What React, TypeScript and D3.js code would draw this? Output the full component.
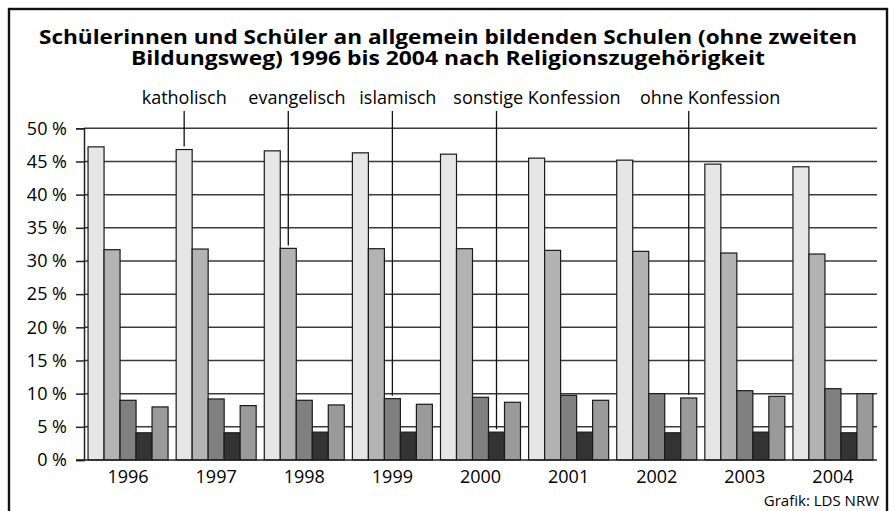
import React, { useEffect, useRef } from 'react';
import * as d3 from 'd3';

// Anteile in % je Schuljahr
const years = ['1996', '1997', '1998', '1999', '2000', '2001', '2002', '2003', '2004'];
const series = ['katholisch', 'evangelisch', 'islamisch', 'sonstige Konfession', 'ohne Konfession'];
const katholisch = [47.2, 46.8, 46.6, 46.3, 46.1, 45.5, 45.2, 44.6, 44.2];
const evangelisch = [31.7, 31.8, 31.9, 31.85, 31.85, 31.6, 31.45, 31.2, 31.05];
const islamisch = [9.0, 9.2, 9.0, 9.25, 9.45, 9.75, 10.0, 10.45, 10.75];
const sonstige = [4.1, 4.1, 4.2, 4.2, 4.2, 4.2, 4.1, 4.2, 4.1];
const ohne = [8.0, 8.2, 8.3, 8.4, 8.7, 9.0, 9.35, 9.6, 10.0];
const yTicks = [0, 5, 10, 15, 20, 25, 30, 35, 40, 45, 50];

// welches Jahr die Beschriftungslinie trifft
const labelYear = ['1997', '1998', '1999', '2000', '2002'];

const colors = ['#e6e6e6', '#b3b3b3', '#808080', '#333333', '#9a9a9a'];

function App() {
  const svgRef = useRef<SVGSVGElement>(null);

  useEffect(() => {
    const width = 896;
    const height = 511;
    const values = [katholisch, evangelisch, islamisch, sonstige, ohne];
    const font = '"Open Sans", sans-serif';

    const svg = d3.select(svgRef.current);
    svg.selectAll('*').remove();
    svg.attr('width', width).attr('height', height);

    svg.append('rect')
      .attr('x', 0).attr('y', 0).attr('width', width).attr('height', height)
      .attr('fill', '#fff');

    // Rahmen
    svg.append('rect')
      .attr('x', 9).attr('y', 9).attr('width', 878).attr('height', 510)
      .attr('fill', 'none').attr('stroke', '#111').attr('stroke-width', 2.4);

    // Titel (Frutiger ist breiter, daher gestreckt)
    const titleLines = [
      { text: 'Schülerinnen und Schüler an allgemein bildenden Schulen (ohne zweiten', y: 44, len: 818 },
      { text: 'Bildungsweg) 1996 bis 2004 nach Religionszugehörigkeit', y: 65, len: 634 },
    ];
    svg.append('g')
      .selectAll('text')
      .data(titleLines)
      .enter()
      .append('text')
      .attr('x', 448)
      .attr('y', d => d.y)
      .attr('text-anchor', 'middle')
      .attr('font-family', font)
      .attr('font-weight', 700)
      .attr('font-size', 20)
      .attr('textLength', d => d.len)
      .attr('lengthAdjust', 'spacingAndGlyphs')
      .attr('fill', '#000')
      .text(d => d.text);

    const x0 = d3.scaleBand()
      .domain(years)
      .range([84, 877])
      .paddingInner(0.092)
      .paddingOuter(0.046);

    const x1 = d3.scaleBand()
      .domain(series)
      .range([0, x0.bandwidth()]);

    const y = d3.scaleLinear()
      .domain([0, 50])
      .range([460, 128.3]);

    // Gitternetz
    svg.append('g')
      .selectAll('line')
      .data(yTicks.filter(d => d > 0))
      .enter()
      .append('line')
      .attr('x1', 84).attr('x2', 877)
      .attr('y1', d => y(d)).attr('y2', d => y(d))
      .attr('stroke', '#3a3a3a')
      .attr('stroke-width', 1.5);

    // y-Achse
    const yAxis = svg.append('g').attr('transform', 'translate(84,0)')
      .call(d3.axisLeft(y).tickValues(yTicks).tickSize(8).tickFormat(d => `${d} %`));
    yAxis.select('.domain').attr('stroke', '#222').attr('stroke-width', 1.5);
    yAxis.selectAll('.tick line').attr('stroke', '#222').attr('stroke-width', 1.5);
    yAxis.selectAll('.tick text')
      .attr('font-family', font)
      .attr('font-size', 18)
      .attr('fill', '#000')
      .attr('x', -17)
      .attr('dy', '0.32em');

    // Balken
    const groups = svg.append('g')
      .selectAll('g')
      .data(years)
      .enter()
      .append('g')
      .attr('transform', d => `translate(${x0(d)},0)`);

    groups.selectAll('rect')
      .data((yr, i) => series.map((s, k) => ({ s, k, v: values[k][i] })))
      .enter()
      .append('rect')
      .attr('x', d => x1(d.s) as number)
      .attr('y', d => y(d.v))
      .attr('width', x1.bandwidth())
      .attr('height', d => y(0) - y(d.v))
      .attr('fill', d => colors[d.k])
      .attr('stroke', '#1a1a1a')
      .attr('stroke-width', 1.2);

    // x-Achse
    svg.append('line')
      .attr('x1', 76).attr('x2', 877)
      .attr('y1', y(0)).attr('y2', y(0))
      .attr('stroke', '#222').attr('stroke-width', 1.5);

    svg.append('g')
      .selectAll('text')
      .data(years)
      .enter()
      .append('text')
      .attr('x', d => (x0(d) as number) + x0.bandwidth() / 2)
      .attr('y', 483)
      .attr('text-anchor', 'middle')
      .attr('font-family', font)
      .attr('font-size', 18)
      .text(d => d);

    // Beschriftungen mit Hinweislinien
    const labelStart = [141.7, 248.3, 359.3, 453.3, 640];
    series.forEach((s, k) => {
      const i = years.indexOf(labelYear[k]);
      const cx = (x0(labelYear[k]) as number) + (x1(s) as number) + x1.bandwidth() / 2;
      svg.append('line')
        .attr('x1', cx).attr('x2', cx)
        .attr('y1', 111).attr('y2', y(values[k][i]) - 3)
        .attr('stroke', '#111').attr('stroke-width', 1.3);
      svg.append('text')
        .attr('x', labelStart[k])
        .attr('y', 104)
        .attr('font-family', font)
        .attr('font-size', 18)
        .text(s);
    });

    svg.append('text')
      .attr('x', 879)
      .attr('y', 506)
      .attr('text-anchor', 'end')
      .attr('font-family', font)
      .attr('font-size', 15)
      .text('Grafik: LDS NRW');
  }, []);

  return (
    <svg ref={svgRef} style={{ position: 'absolute', left: 0, top: 0, display: 'block' }}></svg>
  );
}

export default App;
